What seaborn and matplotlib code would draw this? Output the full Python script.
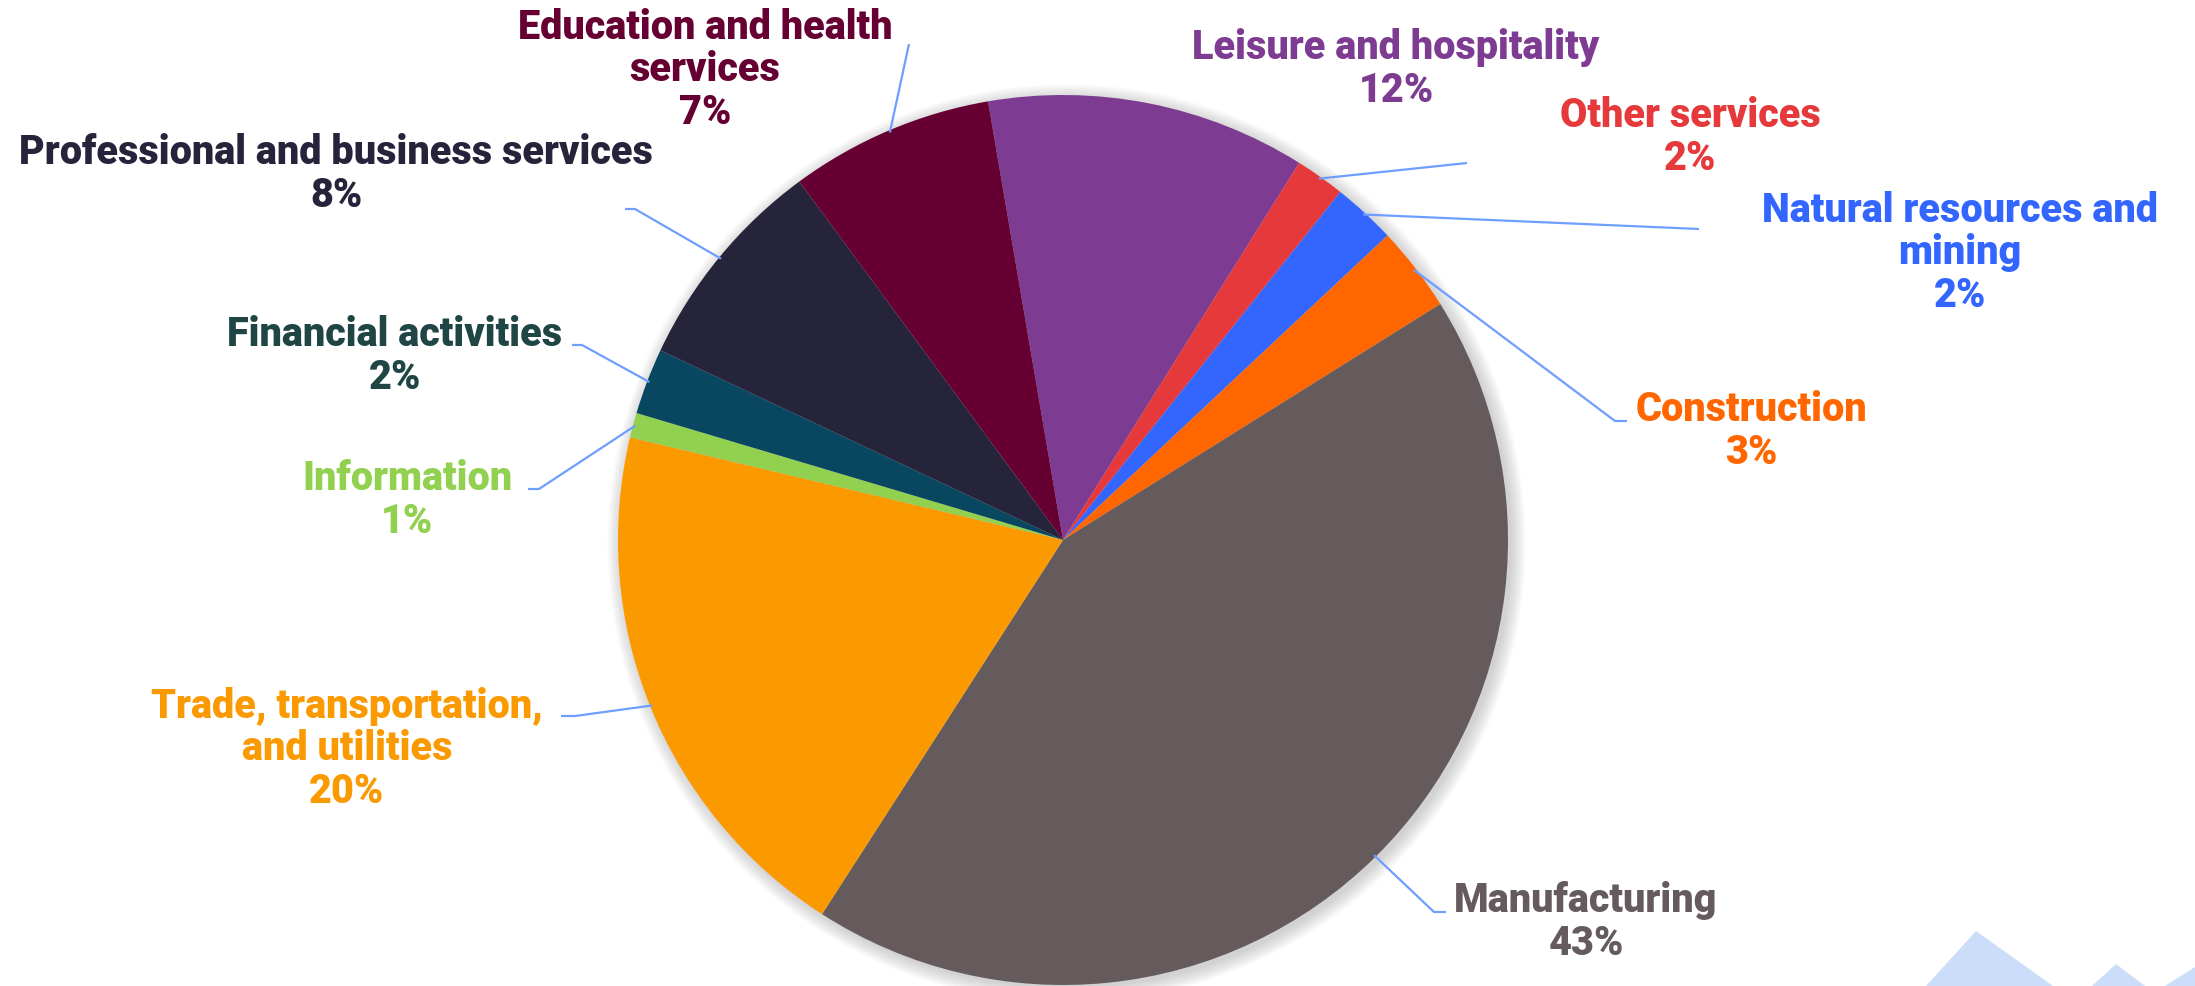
import numpy as np
import matplotlib
matplotlib.use("Agg")
import matplotlib.pyplot as plt
from matplotlib import font_manager
from matplotlib.patches import Circle, Polygon
import seaborn as sns

# ---- data ----
categories = ["Leisure and hospitality", "Other services", "Natural resources and\nmining",
              "Construction", "Manufacturing", "Trade, transportation,\nand utilities",
              "Information", "Financial activities", "Professional and business services",
              "Education and health\nservices"]
shares = [11.6, 1.8, 2.3, 3.1, 43.0, 19.6, 0.9, 2.4, 7.9, 7.4]
pct_labels = ["12%", "2%", "2%", "3%", "43%", "20%", "1%", "2%", "8%", "7%"]
colors = ["#7D3C92", "#E5393B", "#3366FF", "#FF6600", "#655A5C", "#FB9900",
          "#92D050", "#08475F", "#25243B", "#660033"]
text_colors = ["#7D3C92", "#E5393B", "#3366FF", "#FF6600", "#655A5C", "#FB9900",
               "#92D050", "#1F4545", "#25243B", "#660033"]

# ---- layout (pixel positions of label centres and leader elbows) ----
W, H = 2195, 987
CX, CY, R = 1063, 541, 445
label_px = [(1396, 69), (1690, 137), (1960, 253), (1751, 431), (1586, 922),
            (347, 749), (407, 500), (395, 356), (336, 174), (705, 70)]
elbow_px = [None, [(1467, 164)], [(1699, 230)], [(1627, 422), (1615, 422)],
            [(1446, 913), (1434, 913)], [(561, 717), (575, 717)],
            [(528, 490), (539, 490)], [(572, 346), (582, 346)],
            [(625, 210), (635, 210)], [(909, 45)]]

sns.set_theme(style="white")
avail = {f.name for f in font_manager.fontManager.ttflist}
fam = "Roboto" if "Roboto" in avail else "DejaVu Sans"
plt.rcParams["font.family"] = [fam, "DejaVu Sans"]

fig = plt.figure(figsize=(W / 100, H / 100), dpi=100)
fig.patch.set_facecolor("white")
ax = fig.add_axes([0, 0, 1, 1])


def px2d(p):
    return ((p[0] - CX) / R, (CY - p[1]) / R)


# soft shadow
for i in range(10):
    ax.add_patch(Circle((0.008, -0.008), 1.0 + 0.0035 * i, color="#777777",
                        alpha=0.035, lw=0, zorder=0))

wedges, _ = ax.pie(shares, colors=colors, startangle=99.7, counterclock=False,
                   radius=1.0, wedgeprops=dict(linewidth=0))
for w in wedges:
    w.set_zorder(2)

ax.set_aspect("auto")
ax.set_xlim(-CX / R, (W - CX) / R)
ax.set_ylim(-(H - CY) / R, CY / R)
ax.axis("off")

for i, w in enumerate(wedges):
    mid = np.deg2rad((w.theta1 + w.theta2) / 2)
    edge = (np.cos(mid) * 0.995, np.sin(mid) * 0.995)
    if elbow_px[i] is not None:
        pts = [px2d(p) for p in elbow_px[i]] + [edge]
        xs, ys = zip(*pts)
        ax.plot(xs, ys, color="#6E9EFF", lw=1.6, zorder=3, solid_capstyle="butt")
    lx, ly = px2d(label_px[i])
    ax.text(lx, ly, categories[i] + "\n" + pct_labels[i], ha="center", va="center",
            color=text_colors[i], fontsize=28.5, fontweight="heavy", linespacing=1.1,
            zorder=4)

# decorative light-blue triangles at the bottom-right corner
deco = [[(1926, 987), (1976, 932), (2053, 987)],
        [(2092, 987), (2116, 965), (2145, 987)],
        [(2165, 987), (2195, 968), (2195, 987)]]
for tri in deco:
    fig.add_artist(Polygon([(x / W, 1 - y / H) for x, y in tri], closed=True,
                           transform=fig.transFigure, color="#CCDDFA", lw=0))

fig.savefig("out.png", dpi=100, facecolor="white")
